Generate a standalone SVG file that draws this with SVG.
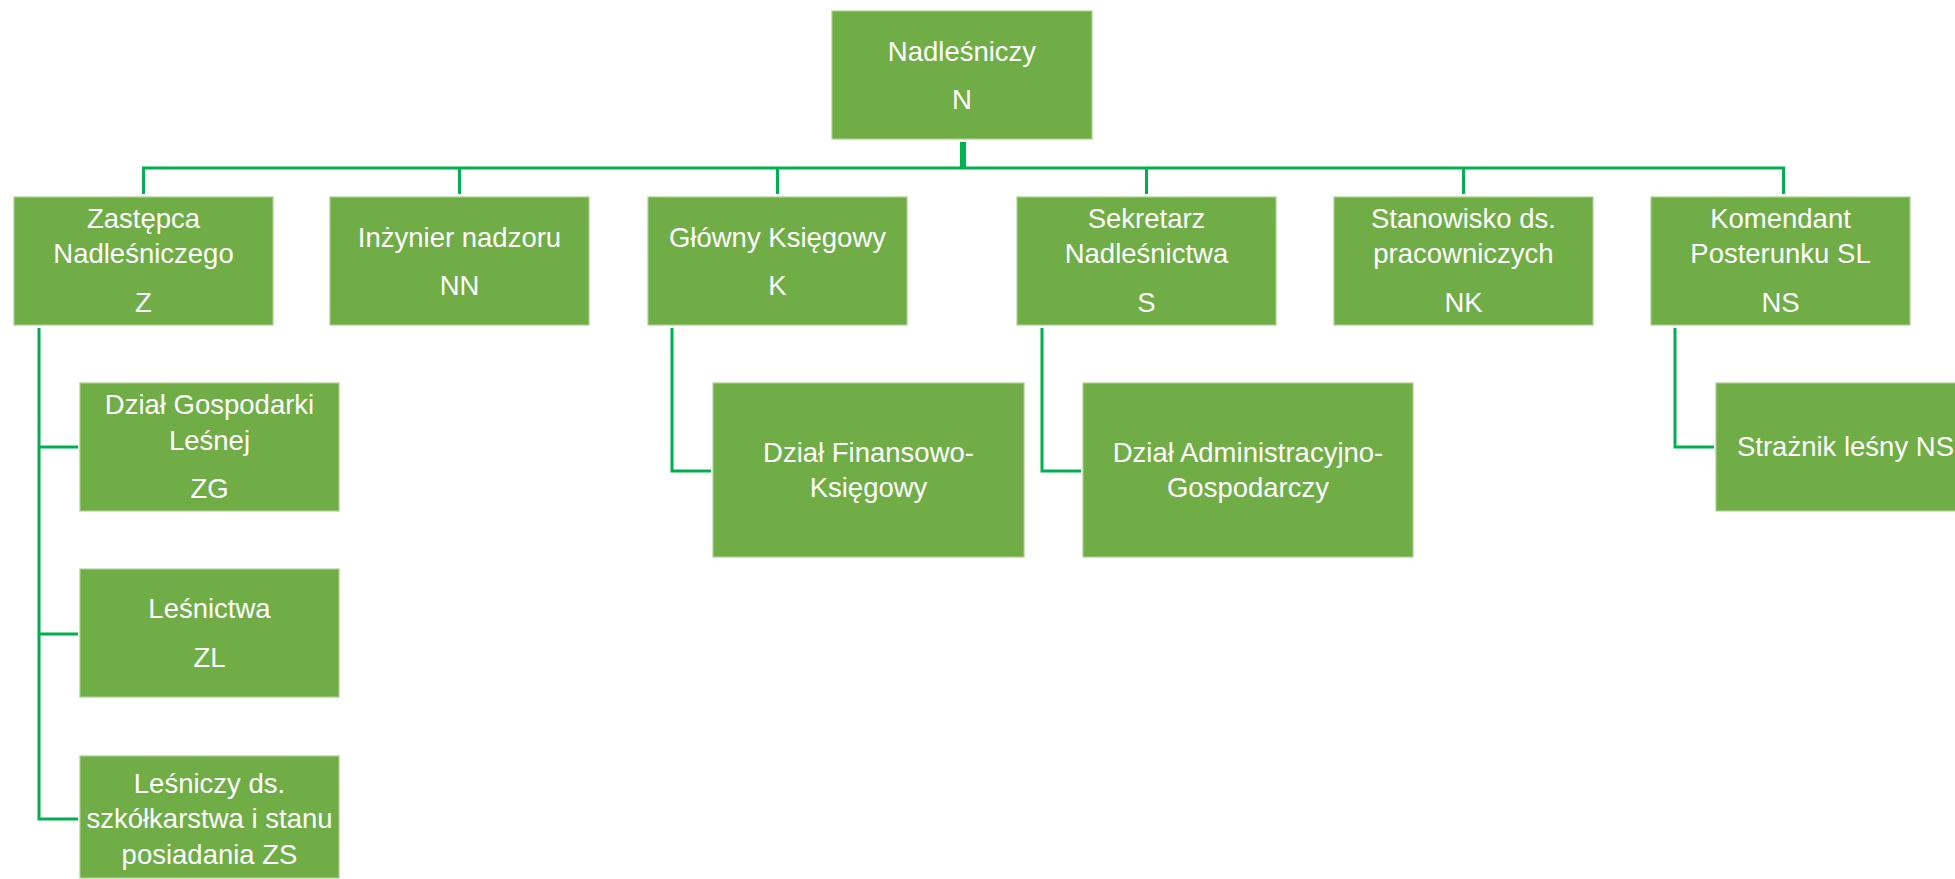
<svg xmlns="http://www.w3.org/2000/svg" width="1955" height="879" viewBox="0 0 1955 879">
<style>
.box{fill:#70AD47;stroke:#A9CF8F;stroke-width:1.2}
.t{font-family:"Liberation Sans",Arial,sans-serif;font-size:27.5px;fill:#FFFFFF;text-anchor:middle}
.c{fill:none;stroke:#00B050;stroke-width:3;stroke-linecap:butt;stroke-linejoin:miter}
</style>
<rect width="1955" height="879" fill="#FFFFFF"/>
<g id="connectors">
<line x1="963" y1="142" x2="963" y2="168" style="stroke:#00B050;stroke-width:6"/>
<path class="c" d="M143.5,194 V168 H1783.5 V194"/>
<path class="c" d="M459.5,168 V194"/>
<path class="c" d="M777.5,168 V194"/>
<path class="c" d="M1146.5,168 V194"/>
<path class="c" d="M1463.5,168 V194"/>
<path class="c" d="M39,328 V819 H78"/>
<path class="c" d="M39,447 H78"/>
<path class="c" d="M39,634 H78"/>
<path class="c" d="M672,328 V471 H711"/>
<path class="c" d="M1042,328 V471 H1081"/>
<path class="c" d="M1675,328 V447 H1714"/>
</g>
<g id="n-N">
<rect class="box" x="832" y="11" width="260" height="128"/>
<text class="t" x="962" y="61">Nadleśniczy</text>
<text class="t" x="962" y="109">N</text>
</g>
<g id="n-Z">
<rect class="box" x="14" y="197" width="259" height="128"/>
<text class="t" x="143.5" y="228">Zastępca</text>
<text class="t" x="143.5" y="263">Nadleśniczego</text>
<text class="t" x="143.5" y="312">Z</text>
</g>
<g id="n-NN">
<rect class="box" x="330" y="197" width="259" height="128"/>
<text class="t" x="459.5" y="247">Inżynier nadzoru</text>
<text class="t" x="459.5" y="295">NN</text>
</g>
<g id="n-K">
<rect class="box" x="648" y="197" width="259" height="128"/>
<text class="t" x="777.5" y="247">Główny Księgowy</text>
<text class="t" x="777.5" y="295">K</text>
</g>
<g id="n-S">
<rect class="box" x="1017" y="197" width="259" height="128"/>
<text class="t" x="1146.5" y="228">Sekretarz</text>
<text class="t" x="1146.5" y="263">Nadleśnictwa</text>
<text class="t" x="1146.5" y="312">S</text>
</g>
<g id="n-NK">
<rect class="box" x="1334" y="197" width="259" height="128"/>
<text class="t" x="1463.5" y="228">Stanowisko ds.</text>
<text class="t" x="1463.5" y="263">pracowniczych</text>
<text class="t" x="1463.5" y="312">NK</text>
</g>
<g id="n-NS">
<rect class="box" x="1651" y="197" width="259" height="128"/>
<text class="t" x="1780.5" y="228">Komendant</text>
<text class="t" x="1780.5" y="263">Posterunku SL</text>
<text class="t" x="1780.5" y="312">NS</text>
</g>
<g id="n-ZG">
<rect class="box" x="80" y="383" width="259" height="128"/>
<text class="t" x="209.5" y="414">Dział Gospodarki</text>
<text class="t" x="209.5" y="450">Leśnej</text>
<text class="t" x="209.5" y="498">ZG</text>
</g>
<g id="n-ZL">
<rect class="box" x="80" y="569" width="259" height="128"/>
<text class="t" x="209.5" y="618">Leśnictwa</text>
<text class="t" x="209.5" y="667">ZL</text>
</g>
<g id="n-ZS">
<rect class="box" x="80" y="756" width="259" height="122"/>
<text class="t" x="209.5" y="793">Leśniczy ds.</text>
<text class="t" x="209.5" y="828">szkółkarstwa i stanu</text>
<text class="t" x="209.5" y="864">posiadania ZS</text>
</g>
<g id="n-DFK">
<rect class="box" x="713" y="383" width="311" height="174"/>
<text class="t" x="868.5" y="462">Dział Finansowo-</text>
<text class="t" x="868.5" y="497">Księgowy</text>
</g>
<g id="n-DAG">
<rect class="box" x="1083" y="383" width="330" height="174"/>
<text class="t" x="1248" y="462">Dział Administracyjno-</text>
<text class="t" x="1248" y="497">Gospodarczy</text>
</g>
<g id="n-SL">
<rect class="box" x="1716" y="383" width="259" height="128"/>
<text class="t" x="1845.5" y="456">Strażnik leśny NS</text>
</g>
</svg>
